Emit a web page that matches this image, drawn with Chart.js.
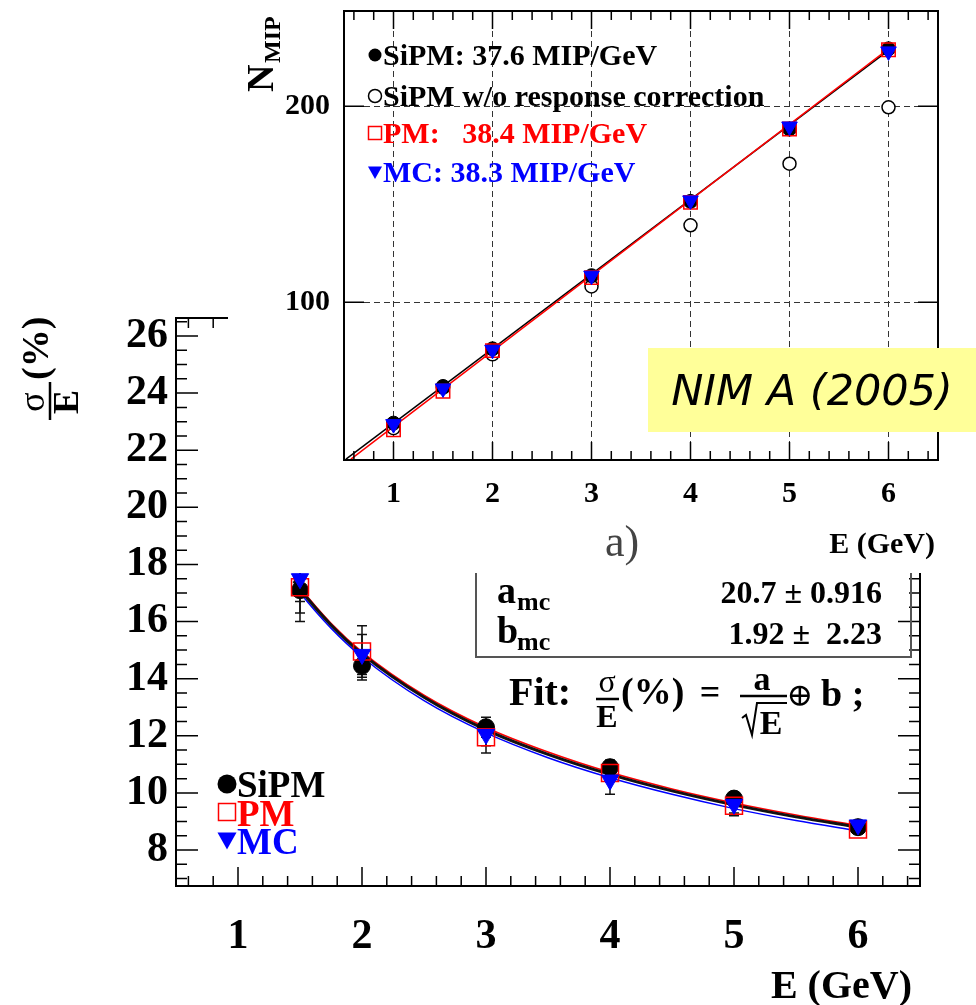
<!DOCTYPE html>
<html>
<head>
<meta charset="utf-8">
<script src="https://cdn.jsdelivr.net/npm/chart.js@4.4.1/dist/chart.umd.min.js"></script>
<style>
  html, body { margin: 0; padding: 0; background: #fff; }
  #cadre { position: relative; width: 976px; height: 1005px; overflow: hidden; }
  #graphe-reso { position: absolute; left: 0; top: 0; }
  #graphe-nmip { position: absolute; left: 228px; top: 0; background: #fff; }
</style>
</head>
<body>
<div id="cadre">
  <canvas id="graphe-reso" width="976" height="1005"></canvas>
  <canvas id="graphe-nmip" width="748" height="573"></canvas>
</div>
<script>
// ---- graphe du haut : N_MIP en fonction de E ----
const energies = [1, 1.5, 2, 3, 4, 5, 6]
const nmipSipm = [38.4, 57.1, 76.3, 113.6, 151.5, 188.4, 229.3]
const nmipSipmBrut = [35.8, 56.5, 73.5, 108.1, 139.3, 170.7, 199.5]
const nmipPm = [35.0, 54.7, 75.4, 112.6, 151.0, 188.4, 228.8]
const nmipMc = [37.9, 56.1, 75.8, 113.6, 152.0, 189.7, 228.0]
// droites d'ajustement (extremites)
const droiteSipmE = [0.52, 6]
const droiteSipmN = [20, 228.5]
const droitePmE = [0.57, 6]
const droitePmN = [20, 229.3]
const graduationsNmip = [100, 200]
const graduationsE = [1, 2, 3, 4, 5, 6]

// ---- graphe du bas : resolution sigma/E (%) ----
const energiesReso = [1.5, 2, 3, 4, 5, 6]
const resoSipm = [17.1, 14.45, 12.3, 10.9, 9.8, 8.8]
const errSipm = [1.1, 0.5, 0.35, 0.25, 0.2, 0.15]
const resoPm = [17.2, 14.95, 11.95, 10.7, 9.55, 8.72]
const errPm = [0.9, 0.9, 0.55, 0.3, 0.25, 0.15]
const resoMc = [17.5, 14.85, 12.05, 10.45, 9.6, 8.88]
const errMc = [0.8, 0.7, 0.4, 0.5, 0.4, 0.15]
// courbes d'ajustement
const courbeE = [1.45, 1.5, 1.75, 2, 2.5, 3, 3.5, 4, 4.5, 5, 5.5, 6]
const courbeSipm = [17.42, 17.13, 15.88, 14.87, 13.35, 12.21, 11.35, 10.65, 10.07, 9.58, 9.16, 8.8]
const courbePm = [17.48, 17.19, 15.94, 14.94, 13.42, 12.29, 11.43, 10.72, 10.14, 9.65, 9.23, 8.86]
const courbeMc = [17.3, 17.01, 15.77, 14.76, 13.23, 12.1, 11.23, 10.53, 9.95, 9.45, 9.03, 8.67]
const graduationsReso = [8, 10, 12, 14, 16, 18, 20, 22, 24, 26]

const serif = '"Liberation Serif", "Times New Roman", serif'
Chart.defaults.font.family = serif
Chart.defaults.font.weight = 'bold'
Chart.defaults.color = '#000'

const points = (xs, ys) => xs.map((v, i) => ({x: v, y: ys[i]}))
const pas = (debut, fin, step) => {
  const res = []
  for (let v = debut; v <= fin + 1e-9; v += step) res.push(Math.round(v * 100) / 100)
  return res
}
// pas de marge automatique autour des axes : le cadre est fixe
const sansMarge = s => { s.paddingTop = 0; s.paddingBottom = 0; s.paddingLeft = 0; s.paddingRight = 0 }

function texte(ctx, str, x, y, o) {
  o = o || {}
  ctx.save()
  ctx.font = (o.style || 'bold') + ' ' + (o.size || 30) + 'px ' + (o.family || serif)
  ctx.fillStyle = o.color || '#000'
  ctx.textAlign = o.align || 'left'
  ctx.textBaseline = o.baseline || 'alphabetic'
  ctx.fillText(str, x, y)
  ctx.restore()
}

// petits symboles des legendes
function symbole(ctx, forme, x, y, r, couleur) {
  ctx.save()
  ctx.fillStyle = couleur; ctx.strokeStyle = couleur; ctx.lineWidth = 1.5
  ctx.beginPath()
  if (forme === 'rond') { ctx.arc(x, y, r, 0, Math.PI * 2); ctx.fill() }
  if (forme === 'cercle') { ctx.arc(x, y, r, 0, Math.PI * 2); ctx.stroke() }
  if (forme === 'carre') { ctx.strokeRect(x - r, y - r, 2 * r, 2 * r) }
  if (forme === 'triangle') {
    ctx.moveTo(x - r, y - r * 0.8); ctx.lineTo(x + r, y - r * 0.8); ctx.lineTo(x, y + r); ctx.closePath(); ctx.fill()
  }
  ctx.restore()
}

// graduations vers l'interieur du cadre
function tirets(ctx, area, scale, valeurs, longueur, cotes) {
  ctx.save()
  ctx.strokeStyle = '#000'; ctx.lineWidth = 1.5
  ctx.beginPath()
  valeurs.forEach(v => {
    const p = scale.getPixelForValue(v)
    cotes.forEach(c => {
      if (c === 'bas') { ctx.moveTo(p, area.bottom); ctx.lineTo(p, area.bottom - longueur) }
      if (c === 'haut') { ctx.moveTo(p, area.top); ctx.lineTo(p, area.top + longueur) }
      if (c === 'gauche') { ctx.moveTo(area.left, p); ctx.lineTo(area.left + longueur, p) }
      if (c === 'droite') { ctx.moveTo(area.right, p); ctx.lineTo(area.right - longueur, p) }
    })
  })
  ctx.stroke()
  ctx.restore()
}

function cadre(ctx, area) {
  ctx.save()
  ctx.strokeStyle = '#000'; ctx.lineWidth = 2
  ctx.strokeRect(area.left, area.top, area.right - area.left, area.bottom - area.top)
  ctx.restore()
}

// ---------------- graphe du bas ----------------
const barresErreur = {
  id: 'barresErreur',
  beforeDatasetsDraw(chart) {
    const {ctx, chartArea, scales: {x, y}} = chart
    ctx.save()
    ctx.beginPath(); ctx.rect(chartArea.left, chartArea.top, chartArea.width, chartArea.height); ctx.clip()
    ctx.strokeStyle = '#111'; ctx.lineWidth = 1.5
    const series = [[resoSipm, errSipm], [resoPm, errPm], [resoMc, errMc]]
    series.forEach(([vals, errs]) => {
      energiesReso.forEach((e, i) => {
        const px = x.getPixelForValue(e)
        const h = y.getPixelForValue(vals[i] + errs[i])
        const b = y.getPixelForValue(vals[i] - errs[i])
        ctx.beginPath()
        ctx.moveTo(px, h); ctx.lineTo(px, b)
        ctx.moveTo(px - 5, h); ctx.lineTo(px + 5, h)
        ctx.moveTo(px - 5, b); ctx.lineTo(px + 5, b)
        ctx.stroke()
      })
    })
    ctx.restore()
  }
}

const decorBas = {
  id: 'decorBas',
  afterDraw(chart) {
    const {ctx, chartArea: a, scales: {x, y}} = chart
    cadre(ctx, a)
    tirets(ctx, a, x, graduationsE, 19, ['bas', 'haut'])
    tirets(ctx, a, x, pas(0.6, 6.4, 0.2).filter(v => v % 1 !== 0), 10, ['bas', 'haut'])
    tirets(ctx, a, y, graduationsReso, 22, ['gauche', 'droite'])
    tirets(ctx, a, y, pas(7, 26.5, 0.5).filter(v => v % 2 !== 0), 11, ['gauche', 'droite'])

    // legende
    symbole(ctx, 'rond', 227, 784, 9.5, '#000')
    texte(ctx, 'SiPM', 237, 797, {size: 37})
    symbole(ctx, 'carre', 227, 812, 8.5, '#ff0000')
    texte(ctx, 'PM', 237, 826, {size: 37, color: '#ff0000'})
    symbole(ctx, 'triangle', 227, 840, 9.5, '#0000ff')
    texte(ctx, 'MC', 237, 854, {size: 37, color: '#0000ff'})

    // boite des parametres
    ctx.save()
    ctx.strokeStyle = '#555'; ctx.lineWidth = 2
    ctx.strokeRect(476, 530, 435, 127)
    ctx.restore()
    texte(ctx, 'a', 497, 603, {size: 38})
    texte(ctx, 'mc', 517, 610, {size: 26})
    texte(ctx, '20.7 \u00b1 0.916', 882, 603, {size: 32, align: 'right'})
    texte(ctx, 'b', 497, 643, {size: 38})
    texte(ctx, 'mc', 517, 650, {size: 26})
    texte(ctx, '1.92 \u00b1  2.23', 882, 644, {size: 32, align: 'right'})

    // formule de l'ajustement
    texte(ctx, 'Fit:', 509, 705, {size: 40})
    texte(ctx, '\u03c3', 607, 692, {size: 32, style: 'normal', align: 'center'})
    texte(ctx, 'E', 607, 727, {size: 32, align: 'center'})
    texte(ctx, '(%)', 621, 704, {size: 38})
    texte(ctx, '=', 710, 704, {size: 36, align: 'center'})
    texte(ctx, 'a', 762, 690, {size: 34, align: 'center'})
    texte(ctx, 'E', 771, 734, {size: 34, align: 'center'})
    texte(ctx, '\u2295', 800, 706, {size: 32, style: 'normal', family: '"DejaVu Serif", serif', align: 'center'})
    texte(ctx, 'b ;', 821, 706, {size: 38})
    ctx.save()
    ctx.strokeStyle = '#000'; ctx.lineWidth = 2.5
    ctx.beginPath()
    ctx.moveTo(596, 699); ctx.lineTo(619, 699)
    ctx.moveTo(740, 696); ctx.lineTo(787, 696)
    ctx.stroke()
    ctx.lineWidth = 2
    ctx.beginPath()
    ctx.moveTo(742, 718); ctx.lineTo(746, 715); ctx.lineTo(752, 735); ctx.lineTo(757, 703); ctx.lineTo(787, 703)
    ctx.stroke()
    ctx.restore()

    // titre de l'axe y : sigma / E (%)
    ctx.save()
    ctx.translate(50, 422)
    ctx.rotate(-Math.PI / 2)
    texte(ctx, '\u03c3', 20, -6, {size: 36, style: 'normal', align: 'center'})
    texte(ctx, 'E', 20, 28, {size: 36, align: 'center'})
    ctx.strokeStyle = '#000'; ctx.lineWidth = 2.5
    ctx.beginPath(); ctx.moveTo(2, 0); ctx.lineTo(40, 0); ctx.stroke()
    texte(ctx, '(%)', 42, -2, {size: 38})
    ctx.restore()

    // titre de l'axe x
    texte(ctx, 'E (GeV)', 912, 998, {size: 40, align: 'right'})
  }
}

new Chart(document.getElementById('graphe-reso'), {
  type: 'scatter',
  data: {
    datasets: [
      { label: 'MC', data: points(energiesReso, resoMc), pointStyle: 'triangle', pointRotation: 180,
        pointRadius: 10, pointBackgroundColor: '#0000ff', pointBorderColor: '#0000ff', pointBorderWidth: 1 },
      { label: 'PM', data: points(energiesReso, resoPm), pointStyle: 'rect',
        pointRadius: 12, pointBackgroundColor: 'rgba(0,0,0,0)', pointBorderColor: '#ff0000', pointBorderWidth: 1.5 },
      { label: 'SiPM', data: points(energiesReso, resoSipm), pointStyle: 'circle',
        pointRadius: 8.5, pointBackgroundColor: '#000', pointBorderColor: '#000', pointBorderWidth: 1 },
      { label: 'fit SiPM', data: points(courbeE, courbeSipm), showLine: true, pointRadius: 0,
        borderColor: '#111', borderWidth: 3, cubicInterpolationMode: 'monotone' },
      { label: 'fit PM', data: points(courbeE, courbePm), showLine: true, pointRadius: 0,
        borderColor: '#ff0000', borderWidth: 1.5, cubicInterpolationMode: 'monotone' },
      { label: 'fit MC', data: points(courbeE, courbeMc), showLine: true, pointRadius: 0,
        borderColor: '#0000ff', borderWidth: 1.5, cubicInterpolationMode: 'monotone' }
    ]
  },
  options: {
    responsive: false,
    animation: false,
    layout: { padding: { top: 318, right: 56, left: 0, bottom: 0 } },
    plugins: { legend: { display: false }, tooltip: { enabled: false } },
    scales: {
      x: {
        type: 'linear', min: 0.5, max: 6.5,
        afterBuildTicks: s => { s.ticks = graduationsE.map(v => ({value: v})) },
        afterFit: s => { s.height = 119; sansMarge(s) },
        grid: { display: false, drawTicks: false },
        border: { display: false },
        ticks: { autoSkip: false, maxRotation: 0, padding: 26, font: { size: 42, weight: 'bold' }, color: '#000' }
      },
      y: {
        type: 'linear', min: 6.74, max: 26.63,
        afterBuildTicks: s => { s.ticks = graduationsReso.map(v => ({value: v})) },
        afterFit: s => { s.width = 176; sansMarge(s) },
        grid: { display: false, drawTicks: false },
        border: { display: false },
        ticks: { autoSkip: false, padding: 8, font: { size: 42, weight: 'bold' }, color: '#000' }
      }
    }
  },
  plugins: [barresErreur, decorBas]
})

// ---------------- graphe du haut ----------------
const decorHaut = {
  id: 'decorHaut',
  afterDraw(chart) {
    const {ctx, chartArea: a, scales: {x, y}} = chart
    cadre(ctx, a)
    tirets(ctx, a, x, graduationsE, 18, ['bas', 'haut'])
    tirets(ctx, a, x, pas(0.6, 6.4, 0.2).filter(v => v % 1 !== 0), 9, ['bas', 'haut'])
    tirets(ctx, a, y, graduationsNmip, 20, ['gauche', 'droite'])

    // legende (coordonnees locales du canvas)
    const lx = 155
    symbole(ctx, 'rond', lx - 8, 55, 6.5, '#000')
    texte(ctx, 'SiPM: 37.6 MIP/GeV', lx, 65, {size: 30})
    symbole(ctx, 'cercle', lx - 8, 96, 6.5, '#000')
    texte(ctx, 'SiPM w/o response correction', lx, 106, {size: 30})
    symbole(ctx, 'carre', lx - 8, 133, 6.5, '#ff0000')
    texte(ctx, 'PM:   38.4 MIP/GeV', lx, 143, {size: 30, color: '#ff0000'})
    symbole(ctx, 'triangle', lx - 8, 172, 7, '#0000ff')
    texte(ctx, 'MC: 38.3 MIP/GeV', lx, 182, {size: 30, color: '#0000ff'})

    // titre de l'axe y : N_MIP
    ctx.save()
    ctx.translate(45, 92)
    ctx.rotate(-Math.PI / 2)
    texte(ctx, 'N', 0, 0, {size: 38})
    texte(ctx, 'MIP', 29, 7, {size: 24})
    ctx.restore()

    texte(ctx, 'E (GeV)', 707, 553, {size: 30, align: 'right'})
    texte(ctx, 'a)', 377, 556, {size: 44, style: 'normal', color: '#444'})

    // etiquette de la publication
    ctx.save()
    ctx.fillStyle = '#ffff99'
    ctx.fillRect(420, 348, 328, 84)
    ctx.restore()
    texte(ctx, 'NIM A (2005)', 584, 405, {size: 43, style: 'italic', family: '"DejaVu Sans", sans-serif', align: 'center'})
  }
}

new Chart(document.getElementById('graphe-nmip'), {
  type: 'scatter',
  data: {
    datasets: [
      { label: 'MC', data: points(energies, nmipMc), pointStyle: 'triangle', pointRotation: 180,
        pointRadius: 9, pointBackgroundColor: '#0000ff', pointBorderColor: '#0000ff', pointBorderWidth: 1 },
      { label: 'PM', data: points(energies, nmipPm), pointStyle: 'rect',
        pointRadius: 9.5, pointBackgroundColor: 'rgba(0,0,0,0)', pointBorderColor: '#ff0000', pointBorderWidth: 1.5 },
      { label: 'SiPM', data: points(energies, nmipSipm), pointStyle: 'circle',
        pointRadius: 7, pointBackgroundColor: '#000', pointBorderColor: '#000', pointBorderWidth: 1 },
      { label: 'droite PM', data: points(droitePmE, droitePmN), showLine: true, pointRadius: 0,
        borderColor: '#ff0000', borderWidth: 1.5 },
      { label: 'droite SiPM', data: points(droiteSipmE, droiteSipmN), showLine: true, pointRadius: 0,
        borderColor: '#000', borderWidth: 1.5 },
      { label: 'SiPM sans correction', data: points(energies, nmipSipmBrut), pointStyle: 'circle',
        pointRadius: 6.5, pointBackgroundColor: '#fff', pointBorderColor: '#000', pointBorderWidth: 1.5 }
    ]
  },
  options: {
    responsive: false,
    animation: false,
    layout: { padding: { top: 7, right: 38, left: 0, bottom: 0 } },
    plugins: { legend: { display: false }, tooltip: { enabled: false } },
    scales: {
      x: {
        type: 'linear', min: 0.5, max: 6.5,
        afterBuildTicks: s => { s.ticks = graduationsE.map(v => ({value: v})) },
        afterFit: s => { s.height = 113; sansMarge(s) },
        grid: { color: '#333', lineWidth: 1, drawTicks: false },
        border: { display: false, dash: [6, 4] },
        ticks: { autoSkip: false, maxRotation: 0, padding: 16, font: { size: 30, weight: 'bold' }, color: '#000' }
      },
      y: {
        type: 'linear', min: 19.6, max: 248.6,
        afterBuildTicks: s => { s.ticks = graduationsNmip.map(v => ({value: v})) },
        afterFit: s => { s.width = 116; sansMarge(s) },
        grid: { color: '#333', lineWidth: 1, drawTicks: false },
        border: { display: false, dash: [6, 4] },
        ticks: { autoSkip: false, padding: 14, font: { size: 30, weight: 'bold' }, color: '#000' }
      }
    }
  },
  plugins: [decorHaut]
})
</script>
</body>
</html>
